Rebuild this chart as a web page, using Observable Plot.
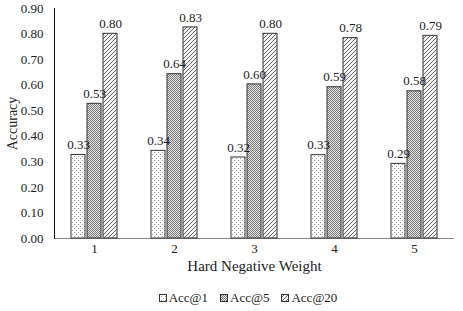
<!DOCTYPE html>
<html><head><meta charset="utf-8">
<script src="https://cdn.jsdelivr.net/npm/d3@7"></script>
<script src="https://cdn.jsdelivr.net/npm/@observablehq/plot@0.6"></script>
<style>
body{margin:0;background:#fff;font-family:"Liberation Serif",serif;}
#wrap{width:463px;height:311px;position:relative;}
#legend{display:flex;justify-content:center;align-items:center;height:26px;font-size:13px;color:#222;padding-left:33px;}
#legend .item{display:flex;align-items:center;margin:0 6px;}
#legend svg{margin-right:2px;}
</style></head>
<body><div id="wrap"><div id="chart"></div><div id="legend"></div></div>
<script>
const groups = [1, 2, 3, 4, 5];
const series = ["Acc@1", "Acc@5", "Acc@20"];
const acc1 = [0.327, 0.343, 0.317, 0.326, 0.292];
const acc5 = [0.527, 0.643, 0.603, 0.592, 0.576];
const acc20 = [0.801, 0.826, 0.801, 0.784, 0.793];
const yTicks = [0, 0.1, 0.2, 0.3, 0.4, 0.5, 0.6, 0.7, 0.8, 0.9];
const patternIds = ["pAcc1", "pAcc5", "pAcc20"];

const values = [acc1, acc5, acc20];
const data = [];
groups.forEach((g, i) => series.forEach((s, j) => data.push({group: g, series: s, value: values[j][i]})));

const defsMarkup = `
<pattern id="pAcc1" width="4" height="4" patternUnits="userSpaceOnUse">
  <rect width="4" height="4" fill="#fff"/>
  <rect x="0" y="0" width="1" height="1" fill="#9a9a9a"/>
  <rect x="2" y="2" width="1" height="1" fill="#9a9a9a"/>
</pattern>
<pattern id="pAcc5" width="2" height="2" patternUnits="userSpaceOnUse">
  <rect width="2" height="2" fill="#e4e4e4"/>
  <rect x="0" y="0" width="1" height="1" fill="#7a7a7a"/>
  <rect x="1" y="1" width="1" height="1" fill="#7a7a7a"/>
</pattern>
<pattern id="pAcc20" width="4" height="4" patternUnits="userSpaceOnUse">
  <rect width="4" height="4" fill="#f2f2f2"/>
  <path d="M0,4 L4,0 M-1,1 L1,-1 M3,5 L5,3" stroke="#6a6a6a" stroke-width="1"/>
</pattern>`;

const font = "'Liberation Serif', serif";
const chart = Plot.plot({
  width: 463,
  height: 285,
  marginLeft: 52,
  marginRight: 8,
  marginTop: 8,
  marginBottom: 47,
  style: {fontFamily: font, fontSize: "13px", color: "#222", background: "#fff"},
  fx: {domain: groups, padding: 0, label: "Hard Negative Weight"},
  x: {domain: series, paddingInner: 0.15, paddingOuter: 0.94, axis: null},
  y: {domain: [0, 0.9], label: "Accuracy"},
  color: {domain: series, range: patternIds.map(id => `url(#${id})`)},
  marks: [
    Plot.axisY({ticks: yTicks, tickSize: 0, tickPadding: 11, tickFormat: d3.format(".2f"), label: null, fontSize: 13}),
    Plot.axisY({ticks: [], label: "Accuracy", labelArrow: "none", labelAnchor: "center", labelOffset: 47, fontSize: 14}),
    Plot.axisFx({anchor: "bottom", tickSize: 0, tickPadding: 5, label: null, fontSize: 13}),
    Plot.axisFx({anchor: "bottom", ticks: [], label: "Hard Negative Weight", labelAnchor: "center", labelOffset: 32, fontSize: 15}),
    Plot.ruleY([0], {stroke: "#888", strokeWidth: 1.2}),
    Plot.barY(data, {fx: "group", x: "series", y: "value", fill: "series", stroke: "#333", strokeWidth: 1}),
    Plot.text(data, {fx: "group", x: "series", y: "value", text: d => d3.format(".2f")(d.value), dy: -10, fontSize: 13, fill: "#222"}),
    Plot.frame({anchor: "left", fx: [groups[0]], stroke: "#111"})
  ]
});
document.getElementById("chart").appendChild(chart);
const svg = chart.tagName.toLowerCase() === "svg" ? chart : chart.querySelector("svg");
const defs = document.createElementNS("http://www.w3.org/2000/svg", "defs");
defs.innerHTML = defsMarkup;
svg.insertBefore(defs, svg.firstChild);

const legend = document.getElementById("legend");
series.forEach((s, j) => {
  const item = document.createElement("div");
  item.className = "item";
  item.innerHTML = `<svg width="8" height="8"><defs>${defsMarkup.replace(/id="p/g, 'id="l' + j + 'p')}</defs><rect x="0.5" y="0.5" width="7" height="7" fill="url(#l${j}${patternIds[j]})" stroke="#333"/></svg><span>${s}</span>`;
  legend.appendChild(item);
});
</script>
</body></html>
